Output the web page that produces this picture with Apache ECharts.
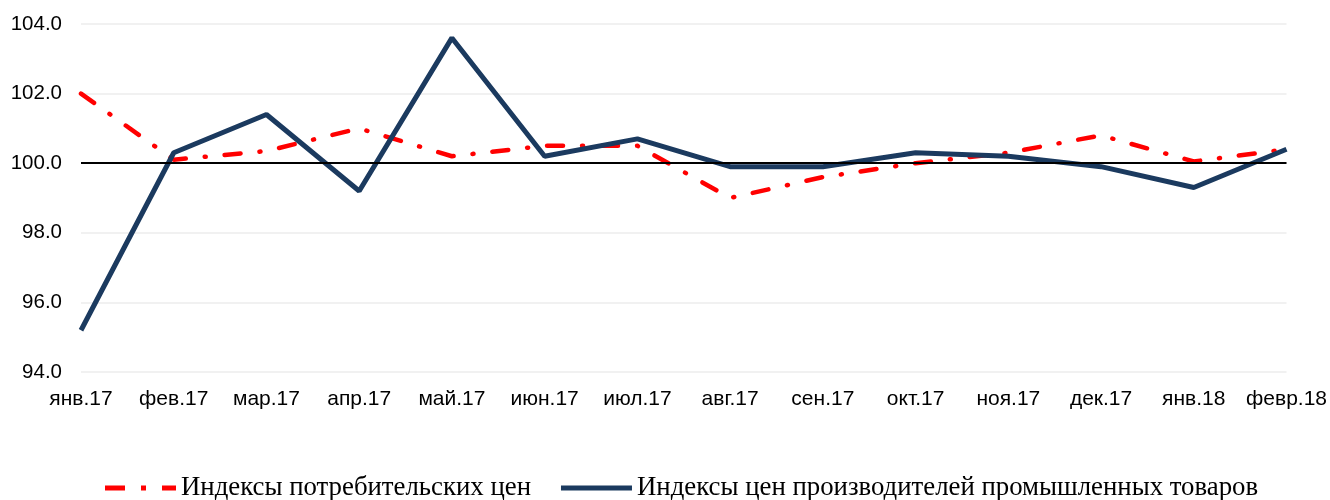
<!DOCTYPE html>
<html style="height: 100%">
   <head>
       <meta charset="utf-8">
   </head>
   <body style="height: 100%; margin: 0">
       <div id="container" style="width: 1330px; height: 500px"></div>
       <script type="text/javascript" src="https://cdn.jsdelivr.net/npm/echarts@6/dist/echarts.min.js"></script>
       <script type="text/javascript">
var months = ['янв.17', 'фев.17', 'мар.17', 'апр.17', 'май.17', 'июн.17', 'июл.17',
              'авг.17', 'сен.17', 'окт.17', 'ноя.17', 'дек.17', 'янв.18', 'февр.18'];
var cpi = [102.0, 100.1, 100.35, 101.0, 100.2, 100.5, 100.5, 99.0, 99.6, 100.0, 100.3, 100.8, 100.05, 100.4];
var ppi = [95.2, 100.3, 101.4, 99.2, 103.6, 100.2, 100.7, 99.9, 99.9, 100.3, 100.2, 99.9, 99.3, 100.4];
var baseLine = 100;

var dom = document.getElementById("container");
var myChart = echarts.init(dom);

option = {
    animation: false,
    grid: {
        left: 81,
        right: 43,
        top: 24,
        bottom: 128
    },
    legend: {
        top: 474,
        left: 100,
        padding: [0, 5, 0, 5],
        itemWidth: 71,
        itemHeight: 5,
        itemGap: 30,
        textStyle: {
            fontFamily: 'Liberation Serif',
            fontSize: 26.8,
            lineHeight: 28,
            color: '#000'
        },
        data: [
            {
                name: 'Индексы потребительских цен',
                icon: 'path://M0,0h20v5h-20z M36,0h5v5h-5z M57,0h14v5h-14z'
            },
            {
                name: 'Индексы цен производителей промышленных товаров',
                icon: 'path://M0,0h71v5h-71z'
            }
        ]
    },
    xAxis: {
        type: 'category',
        data: months,
        boundaryGap: false,
        axisLine: { show: false },
        axisTick: { show: false },
        axisLabel: {
            fontFamily: 'Liberation Sans',
            fontSize: 21,
            color: '#000',
            margin: 17,
            interval: 0
        }
    },
    yAxis: {
        type: 'value',
        min: 94,
        max: 104,
        interval: 2,
        axisLine: { show: false },
        axisTick: { show: false },
        splitLine: {
            lineStyle: { color: '#ececec', width: 1.5 }
        },
        axisLabel: {
            fontFamily: 'Liberation Sans',
            fontSize: 20.5,
            color: '#000',
            margin: 19,
            formatter: function (v) { return v.toFixed(1); }
        }
    },
    series: [
        {
            name: 'Индексы потребительских цен',
            type: 'line',
            data: cpi,
            symbol: 'none',
            z: 3,
            lineStyle: {
                color: '#ff0000',
                width: 4.5,
                type: [16, 19, 1, 19],
                cap: 'round'
            },
            itemStyle: { color: '#ff0000' },
            markLine: {
                silent: true,
                symbol: 'none',
                label: { show: false },
                lineStyle: { color: '#000', width: 2, type: 'solid' },
                data: [{ yAxis: baseLine }]
            }
        },
        {
            name: 'Индексы цен производителей промышленных товаров',
            type: 'line',
            data: ppi,
            symbol: 'none',
            z: 4,
            lineStyle: {
                color: '#1b3a5f',
                width: 5
            },
            itemStyle: { color: '#1b3a5f' }
        }
    ]
};

if (option && typeof option === "object") {
    myChart.setOption(option, true);
}
</script>
   </body>
</html>
